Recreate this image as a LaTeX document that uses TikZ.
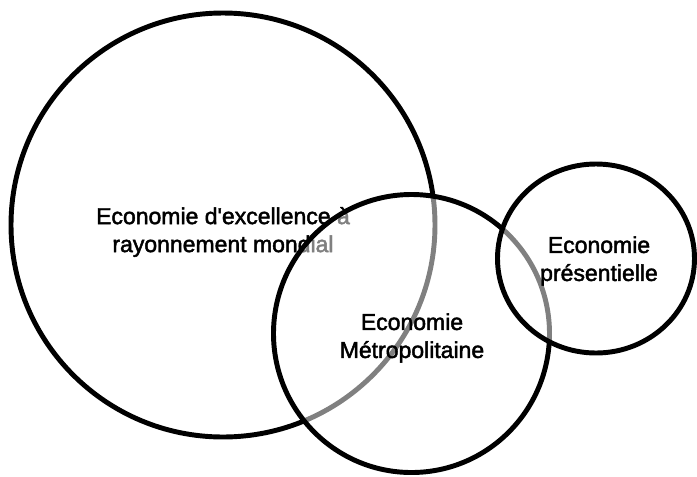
\documentclass[tikz,border=0pt]{standalone}
\usepackage{fontspec}
\setmainfont{Liberation Sans}[FakeBold=2]

\begin{document}
\begin{tikzpicture}[
		x=0.75pt, y=-0.75pt,
		every node/.style={align=center, inner sep=0pt, font=\fontsize{17.25pt}{21pt}\selectfont},
		zone/.style={draw, line width=3.7pt, fill=white, fill opacity=0.5}
	]
  \useasboundingbox (0, 0) rectangle (697, 476);
  \draw [zone] (223, 225) ellipse (212 and 212);
  \node (eco_ex) at (223, 232) {Economie d\textquotesingle excellence à\\rayonnement mondial};
  \draw [zone] (411.5, 333.5) ellipse (138 and 139);
  \node (eco_metro) at (412, 338) {Economie\\Métropolitaine};
  \draw [zone] (596, 258.5) ellipse (98.5 and 94.5);
  \node (eco_pres) at (599, 261) {Economie\\présentielle};
\end{tikzpicture}
\end{document}
